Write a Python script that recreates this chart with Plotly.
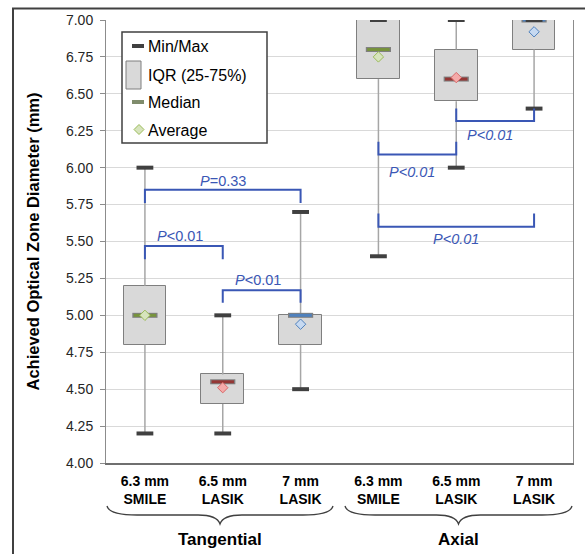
import plotly.graph_objects as go

# ---------------- data ----------------
categories = ["6.3 mm<br>SMILE", "6.5 mm<br>LASIK", "7 mm<br>LASIK",
              "6.3 mm<br>SMILE", "6.5 mm<br>LASIK", "7 mm<br>LASIK"]
groups = ["Tangential", "Axial"]
mins = [4.20, 4.20, 4.50, 5.40, 6.00, 6.40]
q1s = [4.80, 4.40, 4.80, 6.60, 6.45, 6.80]
medians = [5.00, 4.55, 5.00, 6.80, 6.60, 7.00]
q3s = [5.20, 4.60, 5.00, 7.00, 6.80, 7.00]
maxs = [6.00, 5.00, 5.70, 7.00, 7.00, 7.00]
means = [5.00, 4.51, 4.94, 6.75, 6.61, 6.92]
y_tick_vals = [4.00, 4.25, 4.50, 4.75, 5.00, 5.25, 5.50, 5.75, 6.00, 6.25, 6.50, 6.75, 7.00]

# significance comparisons (box index pairs) and labels
p_pairs = [(0, 2), (0, 1), (1, 2), (4, 5), (3, 4), (3, 5)]
p_labels = ["<i>P</i>=0.33", "<i>P</i>&lt;0.01", "<i>P</i>&lt;0.01",
            "<i>P&lt;0.01</i>", "<i>P&lt;0.01</i>", "<i>P&lt;0.01</i>"]

# ---------------- styling / annotation placement ----------------
bracket_bar = [5.85, 5.47, 5.17, 6.316, 6.09, 5.60]
bracket_leg = [5.76, 5.38, 5.085, 6.40, 6.175, 5.69]
label_pos = [(1.0, 5.91), (0.45, 5.54), (1.45, 5.24), (4.43, 6.22), (3.43, 5.97), (4.0, 5.52)]

med_colors = ["#77933C", "#953735", "#4F81BD"] * 2
mean_fill = ["#D7E4BD", "#F4AAA9", "#C6D9F1"] * 2
mean_line = ["#9BBB59", "#D86A6A", "#4F81BD"] * 2
BLUE = "#3A57B5"
FONT = "Liberation Sans, Arial, sans-serif"

W, H = 585, 554
L, R, T, B = 106, 12, 20, 91
PW, PH = W - L - R, H - T - B


def px(x):
    return (x - L) / PW


def py(y):
    return (H - B - y) / PH


xs = list(range(len(categories)))

fig = go.Figure()

# whiskers
wx, wy = [], []
for i in xs:
    wx += [i, i, None, i, i, None]
    wy += [q3s[i], maxs[i], None, q1s[i], mins[i], None]
fig.add_trace(go.Scatter(x=wx, y=wy, mode="lines",
                         line=dict(color="#A6A6A6", width=1.5),
                         hoverinfo="skip", showlegend=False))

# IQR boxes
fig.add_trace(go.Bar(x=xs, y=[q3s[i] - q1s[i] for i in xs], base=q1s, width=0.55,
                     marker=dict(color="#D9D9D9", line=dict(color="#7F7F7F", width=1)),
                     hoverinfo="skip", showlegend=False))

# median bars
fig.add_trace(go.Scatter(x=xs, y=medians, mode="markers",
                         marker=dict(symbol="line-ew", size=18,
                                     line=dict(color="#7F7F7F", width=5)),
                         hoverinfo="skip", showlegend=False))
fig.add_trace(go.Scatter(x=xs, y=medians, mode="markers",
                         marker=dict(symbol="line-ew", size=16,
                                     line=dict(color=med_colors, width=3)),
                         hoverinfo="skip", showlegend=False))

# min / max caps
fig.add_trace(go.Scatter(x=xs + xs, y=mins + maxs, mode="markers",
                         marker=dict(symbol="line-ew", size=12,
                                     line=dict(color="#404040", width=4)),
                         hoverinfo="skip", showlegend=False))

# averages
fig.add_trace(go.Scatter(x=xs, y=means, mode="markers",
                         marker=dict(symbol="diamond", size=8, color=mean_fill,
                                     line=dict(color=mean_line, width=1)),
                         hoverinfo="skip", showlegend=False))

# significance brackets
for k, (a, b) in enumerate(p_pairs):
    fig.add_trace(go.Scatter(x=[a, a, b, b],
                             y=[bracket_leg[k], bracket_bar[k], bracket_bar[k], bracket_leg[k]],
                             mode="lines", line=dict(color=BLUE, width=2),
                             hoverinfo="skip", showlegend=False))
    fig.add_annotation(x=label_pos[k][0], y=label_pos[k][1], text=p_labels[k],
                       showarrow=False, xanchor="center", yanchor="middle",
                       font=dict(family=FONT, size=14.5, color=BLUE))

shapes = []
# outer frame
shapes.append(dict(type="rect", xref="paper", yref="paper",
                   x0=px(13), y0=py(620), x1=px(640), y1=py(8.5),
                   line=dict(color="#404040", width=2), fillcolor="rgba(0,0,0,0)", layer="above"))

# legend box and symbols
shapes.append(dict(type="rect", xref="paper", yref="paper",
                   x0=px(122), y0=py(143), x1=px(267), y1=py(32),
                   line=dict(color="#404040", width=1.5), fillcolor="white", layer="above"))
shapes.append(dict(type="line", xref="paper", yref="paper",
                   x0=px(132), y0=py(46), x1=px(144), y1=py(46),
                   line=dict(color="#404040", width=4), layer="above"))
shapes.append(dict(type="rect", xref="paper", yref="paper",
                   x0=px(126), y0=py(89), x1=px(141), y1=py(61),
                   line=dict(color="#7F7F7F", width=1), fillcolor="#D9D9D9", layer="above"))
shapes.append(dict(type="line", xref="paper", yref="paper",
                   x0=px(132), y0=py(102), x1=px(144), y1=py(102),
                   line=dict(color="#7F8C6C", width=4), layer="above"))
dc = (139, 129.5)
shapes.append(dict(type="path", xref="paper", yref="paper",
                   path=(f"M {px(dc[0])},{py(dc[1]-5)} L {px(dc[0]+5)},{py(dc[1])} "
                         f"L {px(dc[0])},{py(dc[1]+5)} L {px(dc[0]-5)},{py(dc[1])} Z"),
                   line=dict(color="#9BBB59", width=1), fillcolor="#D7E4BD", layer="above"))

legend_items = ["Min/Max", "IQR (25-75%)", "Median", "Average"]
legend_y = [46, 75, 102, 130]
for txt, yy in zip(legend_items, legend_y):
    fig.add_annotation(x=px(146), y=py(yy), xref="paper", yref="paper", text=txt,
                       showarrow=False, xanchor="left", yanchor="middle",
                       font=dict(family=FONT, size=16, color="black"))


# curly braces under groups
def brace(x0, x1, ytop=506, ymid=515, ytip=524):
    xc = (x0 + x1) / 2
    pts = (f"M {px(x0)},{py(ytop)} "
           f"Q {px(x0 + 2)},{py(ymid)} {px(x0 + 30)},{py(ymid)} "
           f"L {px(xc - 22)},{py(ymid)} "
           f"Q {px(xc - 3)},{py(ymid)} {px(xc)},{py(ytip)} "
           f"Q {px(xc + 3)},{py(ymid)} {px(xc + 22)},{py(ymid)} "
           f"L {px(x1 - 30)},{py(ymid)} "
           f"Q {px(x1 - 2)},{py(ymid)} {px(x1)},{py(ytop)}")
    return dict(type="path", xref="paper", yref="paper", path=pts,
                line=dict(color="#404040", width=1.3), layer="above")


shapes.append(brace(107, 333))
shapes.append(brace(345, 572))

for txt, xc in zip(groups, [220, 458]):
    fig.add_annotation(x=px(xc), y=py(539), xref="paper", yref="paper", text=txt,
                       showarrow=False, xanchor="center", yanchor="middle",
                       font=dict(family=FONT, size=17, color="black", weight="bold"))

# y-axis title
fig.add_annotation(x=px(32), y=0.5, xref="paper", yref="paper",
                   text="Achieved Optical Zone Diameter (mm)", textangle=-90,
                   showarrow=False, xanchor="center", yanchor="middle",
                   font=dict(family=FONT, size=16.5, color="black", weight="bold"))

fig.update_layout(
    width=W, height=H,
    margin=dict(l=L, r=R, t=T, b=B, pad=0),
    paper_bgcolor="white", plot_bgcolor="white",
    showlegend=False, shapes=shapes, bargap=0,
    font=dict(family=FONT),
    xaxis=dict(range=[-0.5, 5.5], tickvals=xs, ticktext=categories,
               showgrid=False, zeroline=False, showline=True,
               linecolor="#6F6F6F", linewidth=1.5, ticks="",
               ticklabelstandoff=4,
               tickfont=dict(family=FONT, size=14, color="black", weight="bold"),
               fixedrange=True),
    yaxis=dict(range=[4, 7], tickvals=y_tick_vals,
               ticktext=[f"{v:.2f}" for v in y_tick_vals],
               showgrid=True, gridcolor="#D9D9D9", gridwidth=1,
               zeroline=False, showline=True, linecolor="#8C8C8C", linewidth=1,
               mirror=True, ticks="outside", ticklen=5, tickcolor="#8C8C8C",
               ticklabelstandoff=4,
               tickfont=dict(family=FONT, size=14, color="#262626"),
               fixedrange=True),
)

fig.write_html("out.html", config={"displayModeBar": False},
               post_script="document.body.style.margin='0';document.body.style.padding='0';")
